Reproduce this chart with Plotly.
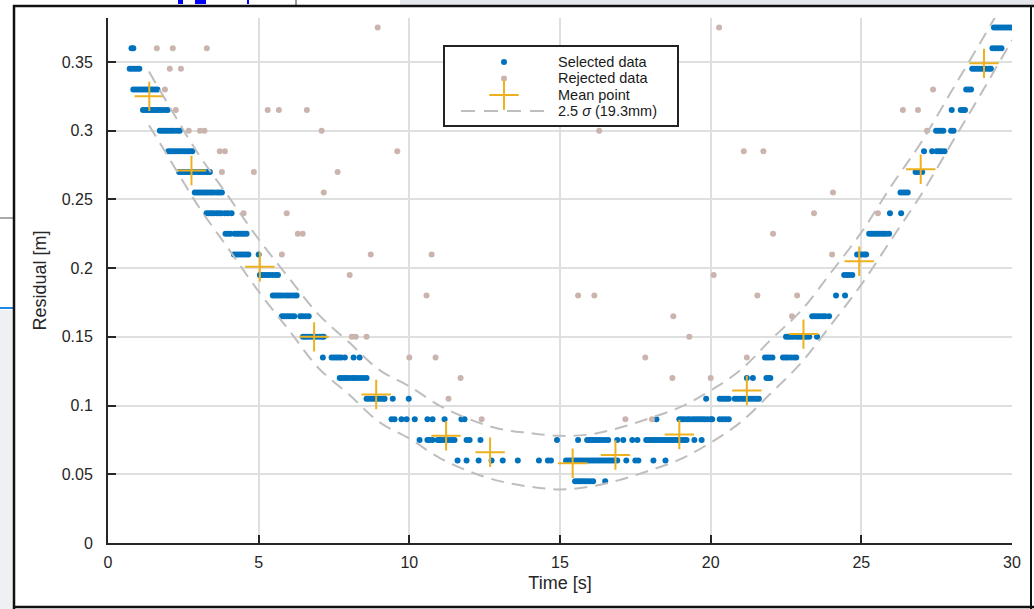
import plotly.graph_objects as go

# ---------------- data ----------------
# Selected data: one list of time stamps per residual level
sel_rows = {
    0.375: [29.40, 29.48, 29.56, 29.64, 29.72, 29.80, 29.88, 29.96],
    0.360: [0.78, 0.84, 29.35, 29.45, 29.55, 29.65],
    0.345: [0.72, 0.80, 0.88, 0.96, 1.04, 28.68, 28.76, 28.84, 28.92, 29.00, 29.08, 29.16, 29.24, 29.30],
    0.330: [0.84, 0.92, 1.00, 1.08, 1.16, 1.24, 1.32, 1.40, 1.48, 1.56, 1.64, 28.48, 28.56, 28.64],
    0.315: [1.16, 1.24, 1.32, 1.40, 1.48, 1.56, 1.64, 1.72, 1.80, 1.90, 1.98, 28.00, 28.30, 28.38, 28.44],
    0.300: [1.72, 1.80, 1.88, 1.96, 2.04, 2.12, 2.20, 2.30, 2.38, 27.48, 27.56, 27.64, 27.72, 27.98, 28.06],
    0.285: [2.00, 2.08, 2.16, 2.24, 2.32, 2.40, 2.48, 2.56, 2.64, 2.72, 2.80, 27.08, 27.35, 27.50, 27.58, 27.66, 27.76],
    0.270: [2.36, 2.44, 2.52, 2.60, 2.68, 2.76, 2.84, 2.92, 3.00, 3.08, 3.16, 3.24, 3.32, 3.38, 26.80, 26.88, 26.96, 27.02],
    0.255: [2.88, 2.96, 3.04, 3.12, 3.20, 3.28, 3.36, 3.44, 3.52, 3.62, 3.70, 3.78, 26.30, 26.38, 26.46, 26.54],
    0.240: [3.27, 3.35, 3.43, 3.50, 3.60, 3.68, 3.76, 3.88, 3.98, 4.10, 25.95, 26.32],
    0.225: [3.90, 3.98, 4.06, 4.20, 4.28, 4.36, 4.44, 4.52, 4.60, 25.26, 25.34, 25.42, 25.50, 25.58, 25.66, 25.74, 25.82, 25.92],
    0.210: [4.18, 4.26, 4.34, 4.42, 4.50, 4.58, 4.66, 5.00, 24.86, 24.94, 25.02, 25.10, 25.16],
    0.195: [5.04, 5.12, 5.20, 5.28, 5.36, 5.46, 5.56, 5.64, 24.43, 24.52, 24.60, 24.70],
    0.180: [5.47, 5.55, 5.63, 5.71, 5.80, 5.90, 5.98, 6.08, 6.18, 6.26, 24.16, 24.46],
    0.165: [5.77, 5.85, 5.93, 6.01, 6.10, 6.18, 6.38, 6.46, 6.56, 6.66, 23.37, 23.45, 23.53, 23.62, 23.72, 23.80, 23.93],
    0.150: [6.47, 6.55, 6.63, 6.72, 6.82, 6.92, 7.02, 7.10, 7.16, 22.50, 22.58, 22.66, 22.74, 22.84, 22.92,
            23.00, 23.10, 23.18, 23.27, 23.53],
    0.135: [7.13, 7.42, 7.50, 7.58, 7.66, 7.74, 7.86, 8.15, 8.35, 21.80, 21.88, 21.96, 22.05, 22.40, 22.48,
            22.56, 22.66, 22.76, 22.84],
    0.120: [7.69, 7.77, 7.85, 7.93, 8.02, 8.12, 8.20, 8.28, 8.38, 8.48, 8.58, 21.20, 21.40, 21.85, 21.92, 21.98],
    0.105: [8.58, 8.66, 8.74, 8.82, 8.90, 8.98, 9.06, 9.14, 9.18, 9.45, 9.98, 19.85, 20.30, 20.38, 20.46,
            20.54, 20.60, 20.80, 20.88, 20.96, 21.05, 21.12, 21.20, 21.28, 21.36, 21.44, 21.52, 21.60],
    0.090: [9.41, 9.51, 9.74, 9.91, 10.18, 10.60, 10.77, 11.17, 11.73, 11.83, 18.20, 18.96, 19.04, 19.12,
            19.22, 19.30, 19.40, 19.48, 19.56, 19.64, 19.72, 19.80, 19.90, 20.00, 20.05, 20.30, 20.40,
            20.50, 20.60],
    0.075: [10.34, 10.60, 10.68, 10.77, 10.94, 11.00, 11.07, 11.16, 11.24, 11.34, 11.43, 11.50, 11.90,
            12.00, 12.36, 14.90, 15.60, 15.90, 15.98, 16.06, 16.14, 16.22, 16.30, 16.40, 16.50, 16.60,
            16.90, 17.10, 17.40, 17.57, 17.86, 17.94, 18.02, 18.10, 18.18, 18.26, 18.34, 18.42, 18.50,
            18.58, 18.66, 18.74, 18.82, 18.90, 18.98, 19.06, 19.14, 19.20, 19.46, 19.70],
    0.060: [11.60, 11.90, 12.30, 12.73, 13.10, 13.60, 14.30, 14.60, 14.70, 15.20, 15.28, 15.36, 15.44,
            15.52, 15.60, 15.68, 15.76, 15.84, 15.92, 16.00, 16.08, 16.16, 16.24, 16.32, 16.40, 16.48,
            16.56, 16.64, 16.72, 16.80, 16.90, 17.20, 17.50, 17.60, 18.10, 18.50],
    0.045: [15.50, 15.58, 15.66, 15.74, 15.82, 15.90, 16.00, 16.10, 16.50],
}

# Rejected data
rej_t = [1.62, 2.15, 3.28, 2.05, 2.42, 1.89, 2.25, 5.30, 5.67, 6.60, 2.68, 3.05, 3.20, 7.09,
         3.71, 3.88, 9.60, 3.78, 4.84, 7.62, 7.16, 4.50, 5.93, 6.30, 6.46, 5.77, 8.72, 10.74,
         8.02, 10.57, 8.09, 8.22, 8.58, 10.00, 10.87, 11.70, 11.30, 12.40, 8.95, 20.28, 18.33,
         16.30, 15.60, 16.14, 21.55, 22.87, 18.76, 22.70, 19.29, 17.83, 21.20, 18.73, 20.00,
         17.17, 18.05, 20.10, 21.10, 21.75, 24.06, 23.43, 25.55, 22.07, 24.03, 27.38, 26.38,
         26.88, 27.18]
rej_r = [0.360, 0.360, 0.360, 0.345, 0.345, 0.330, 0.315, 0.315, 0.315, 0.315, 0.300, 0.300, 0.300, 0.300,
         0.285, 0.285, 0.285, 0.270, 0.270, 0.270, 0.255, 0.240, 0.240, 0.225, 0.225, 0.210, 0.210, 0.210,
         0.195, 0.180, 0.150, 0.150, 0.150, 0.135, 0.135, 0.120, 0.105, 0.090, 0.375, 0.375, 0.360,
         0.300, 0.180, 0.180, 0.180, 0.180, 0.165, 0.165, 0.150, 0.135, 0.135, 0.120, 0.120,
         0.090, 0.090, 0.195, 0.285, 0.285, 0.255, 0.240, 0.240, 0.225, 0.210, 0.330, 0.315,
         0.315, 0.300]

# Mean points
mean_t = [1.37, 2.77, 5.04, 6.84, 8.90, 11.22, 12.68, 15.42, 16.84, 18.96, 21.20, 23.08, 24.93, 26.97, 29.07]
mean_r = [0.325, 0.271, 0.201, 0.150, 0.108, 0.078, 0.066, 0.058, 0.064, 0.079, 0.111, 0.152, 0.205, 0.272, 0.349]

# 2.5 sigma envelope
env_t = [1.36, 2, 3, 4, 5, 6, 7, 8, 9, 10, 11, 12, 13, 14, 15, 16, 17, 18, 19, 20,
         21, 22, 23, 24, 25, 26, 27, 28, 29, 30]
env_up = [0.343, 0.319, 0.283, 0.252, 0.221, 0.193, 0.166, 0.146, 0.126, 0.114, 0.100, 0.090,
          0.083, 0.080, 0.078, 0.079, 0.084, 0.091, 0.099, 0.111, 0.126, 0.148, 0.169, 0.197,
          0.226, 0.260, 0.292, 0.329, 0.366, 0.404]
env_lo = [0.304, 0.281, 0.245, 0.214, 0.183, 0.155, 0.127, 0.108, 0.088, 0.076, 0.062, 0.052,
          0.045, 0.041, 0.039, 0.041, 0.046, 0.053, 0.061, 0.073, 0.088, 0.109, 0.131, 0.159,
          0.188, 0.221, 0.254, 0.291, 0.328, 0.366]

x_ticks = [0, 5, 10, 15, 20, 25, 30]
y_ticks = [0, 0.05, 0.1, 0.15, 0.2, 0.25, 0.3, 0.35]
y_labels = ["0", "0.05", "0.1", "0.15", "0.2", "0.25", "0.3", "0.35"]

legend_names = ["Selected data", "Rejected data", "Mean point", "2.5 <i>σ</i> (19.3mm)"]

sel_t = [t for lvl, ts in sel_rows.items() for t in ts]
sel_r = [lvl for lvl, ts in sel_rows.items() for t in ts]

# ---------------- styles ----------------
BLUE = "#0072BD"
ROSY = "#CBB4AD"
ORANGE = "#EDB120"
GREY = "#BEBEBE"
TXT = "#262626"
FONT = "Liberation Sans, Arial, sans-serif"
DASH = "13px,8px"

W, H = 1034, 609
ML, MR, MT, MB = 108, 22, 18, 66


def px_x(p):
    return (p - ML) / float(W - ML - MR)


def px_y(p):
    return (H - MB - p) / float(H - MT - MB)


fig = go.Figure()
fig.add_trace(go.Scatter(x=sel_t, y=sel_r, mode="markers", name=legend_names[0],
                         marker=dict(color=BLUE, size=6, line=dict(width=0))))
fig.add_trace(go.Scatter(x=rej_t, y=rej_r, mode="markers", name=legend_names[1],
                         marker=dict(color=ROSY, size=6, line=dict(width=0))))
fig.add_trace(go.Scatter(x=mean_t, y=mean_r, mode="markers", name=legend_names[2],
                         marker=dict(symbol="cross-thin", size=21, color=ORANGE,
                                     line=dict(color=ORANGE, width=2))))
fig.add_trace(go.Scatter(x=env_t, y=env_up, mode="lines", name=legend_names[3],
                         line=dict(color=GREY, width=2, dash=DASH), line_shape="spline"))
fig.add_trace(go.Scatter(x=env_t, y=env_lo, mode="lines", name=legend_names[3],
                         line=dict(color=GREY, width=2, dash=DASH), line_shape="spline"))

# ---------------- legend box (MATLAB-style), drawn in its own small subplot ----------------
LX0, LX1, LY0, LY1 = 445, 677, 47, 125          # box in page pixels
fig.add_trace(go.Scatter(x=[0, 1, 1, 0, 0], y=[0, 0, 1, 1, 0], xaxis="x2", yaxis="y2",
                         mode="lines", fill="toself", fillcolor="white",
                         line=dict(width=0), hoverinfo="skip", showlegend=False))
key_x = (504 - LX0) / (LX1 - LX0)
row_y = [1 - (v - LY0) / (LY1 - LY0) for v in (62, 78.5, 95, 111)]
fig.add_trace(go.Scatter(x=[key_x], y=[row_y[0]], xaxis="x2", yaxis="y2", mode="markers",
                         marker=dict(color=BLUE, size=6), hoverinfo="skip", showlegend=False))
fig.add_trace(go.Scatter(x=[key_x], y=[row_y[1]], xaxis="x2", yaxis="y2", mode="markers",
                         marker=dict(color=ROSY, size=6), hoverinfo="skip", showlegend=False))
fig.add_trace(go.Scatter(x=[key_x], y=[row_y[2]], xaxis="x2", yaxis="y2", mode="markers",
                         marker=dict(symbol="cross-thin", size=21, color=ORANGE,
                                     line=dict(color=ORANGE, width=2)),
                         hoverinfo="skip", showlegend=False))
fig.add_trace(go.Scatter(x=[(461 - LX0) / (LX1 - LX0), (548 - LX0) / (LX1 - LX0)],
                         y=[row_y[3], row_y[3]], xaxis="x2", yaxis="y2", mode="lines",
                         line=dict(color=GREY, width=2, dash="14px,9px"),
                         hoverinfo="skip", showlegend=False))
annotations = []
text_x = (556 - LX0) / (LX1 - LX0)
for name, yy in zip(legend_names, row_y):
    annotations.append(dict(x=text_x, y=yy, xref="x2", yref="y2", text=name, showarrow=False,
                            xanchor="left", yanchor="middle",
                            font=dict(family=FONT, size=14.5, color="#1a1a1a")))

# ---------------- frame of the captured window ----------------
def rect(x0, x1, y0, y1, color):
    return dict(type="rect", xref="paper", yref="paper", x0=px_x(x0), x1=px_x(x1),
                y0=px_y(y1), y1=px_y(y0), fillcolor=color, line=dict(width=0), layer="above")


def line(x0, y0, x1, y1, color, width):
    return dict(type="line", xref="paper", yref="paper", x0=px_x(x0), x1=px_x(x1),
                y0=px_y(y0), y1=px_y(y1), line=dict(color=color, width=width), layer="above")


shapes = [
    rect(400, 1034, 0, 5, "#E4E7EB"),
    rect(0, 13, 310, 609, "#EEF0F3"),
    line(0, 308, 13, 308, "#1E88E5", 2),
    line(0, 218, 13, 218, "#555555", 1),
    rect(178, 183, 0, 4, "#0000FF"),
    rect(195, 206, 0, 4, "#0000FF"),
    rect(247, 249, 0, 4, "#0000FF"),
    line(296, 0, 296, 5, "#333333", 1),
    line(13, 6, 1034, 6, "#111111", 2.5),
    line(14, 5, 14, 609, "#111111", 2.5),
    line(13, 607, 1034, 607, "#111111", 2.5),
    line(1031, 5, 1031, 609, "#111111", 2),
]

axis_common = dict(showgrid=True, gridcolor="#DFDFDF", gridwidth=2,
                   showline=True, linecolor=TXT, linewidth=2, mirror=False,
                   ticks="inside", ticklen=8, tickwidth=2, tickcolor=TXT,
                   tickfont=dict(size=16, color=TXT), zeroline=False)

fig.update_layout(
    width=W, height=H,
    margin=dict(l=ML, r=MR, t=MT, b=MB),
    paper_bgcolor="white", plot_bgcolor="white",
    font=dict(family=FONT, color=TXT),
    showlegend=False,
    shapes=shapes,
    annotations=annotations,
    xaxis=dict(range=[0, 30], tickvals=x_ticks, ticktext=[str(v) for v in x_ticks],
               ticklabelstandoff=4,
               title=dict(text="Time [s]", font=dict(size=18, color=TXT), standoff=6),
               **axis_common),
    yaxis=dict(range=[0, 0.382], tickvals=y_ticks, ticktext=y_labels,
               ticklabelstandoff=10,
               title=dict(text="Residual [m]", font=dict(size=18, color=TXT), standoff=10),
               **axis_common),
    xaxis2=dict(domain=[px_x(LX0), px_x(LX1)], anchor="y2", range=[0, 1],
                showgrid=False, zeroline=False, showticklabels=False, ticks="",
                showline=True, mirror=True, linecolor="#222222", linewidth=2, fixedrange=True),
    yaxis2=dict(domain=[px_y(LY1), px_y(LY0)], anchor="x2", range=[0, 1],
                showgrid=False, zeroline=False, showticklabels=False, ticks="",
                showline=True, mirror=True, linecolor="#222222", linewidth=2, fixedrange=True),
)

fig.write_html("out.html", config={"displayModeBar": False},
               post_script="document.body.style.margin='0px';document.body.style.overflow='hidden';")
